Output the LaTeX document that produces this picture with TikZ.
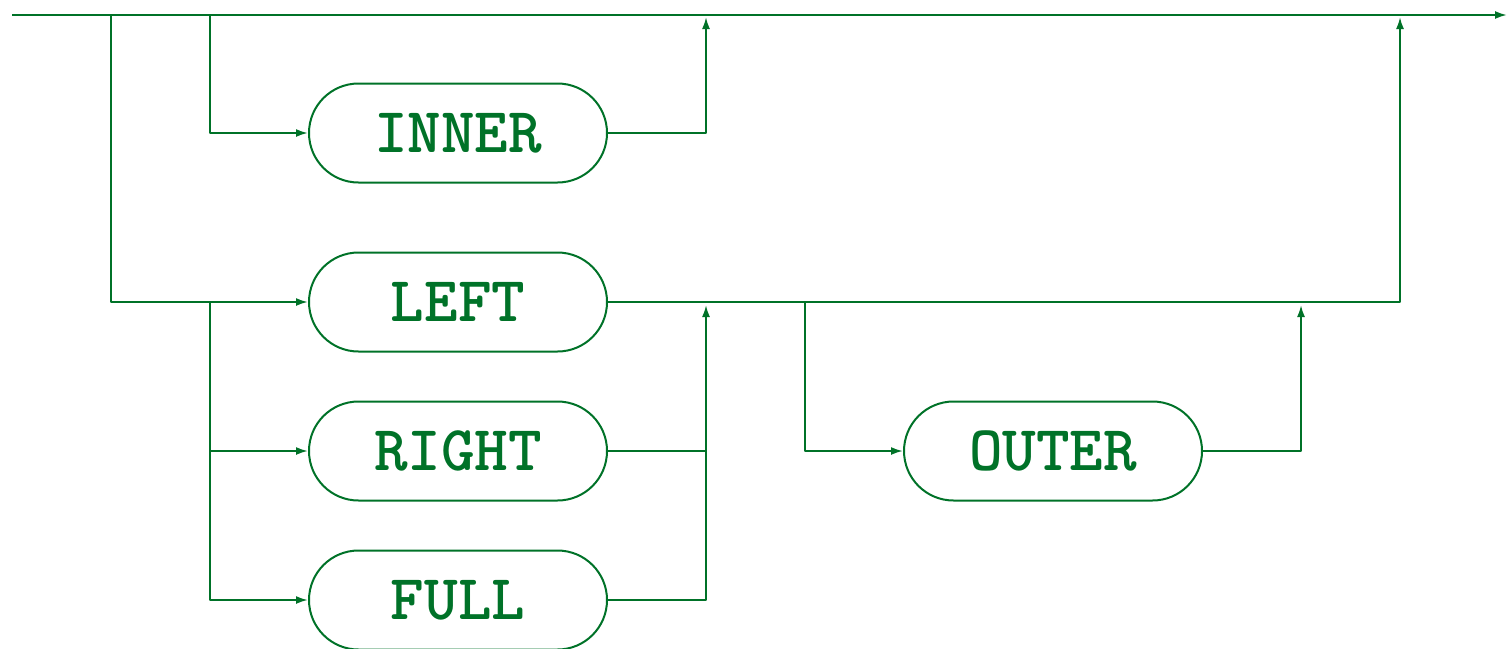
\documentclass[tikz,border=0pt]{standalone}
\usetikzlibrary{arrows.meta,shapes.misc}
\definecolor{railgreen}{RGB}{0,114,40}
\tikzset{
  kw/.style={rounded rectangle, draw=railgreen, line width=1pt, minimum width=149pt,
    minimum height=49.5pt, inner sep=0pt, text=railgreen,
    font=\fontsize{32}{38}\selectfont\ttfamily\bfseries},
  rail/.style={draw=railgreen, line width=1pt},
}
\begin{document}
\begin{tikzpicture}[x=0.5pt,y=-0.5pt,>={Latex[length=6pt,width=4pt]},line join=round]
  \clip (0,0) rectangle (1507,648);
  \useasboundingbox (0,0) rectangle (1507,648);
  % keywords
  \node[kw] (inner) at (458,133) {INNER};
  \node[kw] (left) at (458,302) {LEFT};
  \node[kw] (right) at (458,451) {RIGHT};
  \node[kw] (full) at (458,600) {FULL};
  \node[kw] (outer) at (1053,451) {OUTER};
  % junctions
  \coordinate (start) at (12,15);
  \coordinate (stop) at (1507,15);
  \coordinate (skipsplit) at (111,15);
  \coordinate (innersplit) at (210,15);
  \coordinate (innerup) at (706,17);
  \coordinate (leftup) at (1400,17);
  \coordinate (joinsplit) at (210,302);
  \coordinate (rightup) at (706,305);
  \coordinate (fullup) at (706,451);
  \coordinate (outersplit) at (805,302);
  \coordinate (outerup) at (1301,305);
  % main line
  \draw[rail,->] (start) -- (stop);
  % INNER
  \draw[rail,->] (innersplit) |- (inner.west);
  \draw[rail,->] (inner.east) -| (innerup);
  % LEFT / RIGHT / FULL
  \draw[rail,->] (skipsplit) |- (left.west);
  \draw[rail,->] (joinsplit) |- (right.west);
  \draw[rail,->] (joinsplit) |- (full.west);
  \draw[rail,->] (left.east) -| (leftup);
  \draw[rail,->] (right.east) -| (rightup);
  \draw[rail] (full.east) -| (fullup);
  % OUTER
  \draw[rail,->] (outersplit) |- (outer.west);
  \draw[rail,->] (outer.east) -| (outerup);
\end{tikzpicture}
\end{document}
